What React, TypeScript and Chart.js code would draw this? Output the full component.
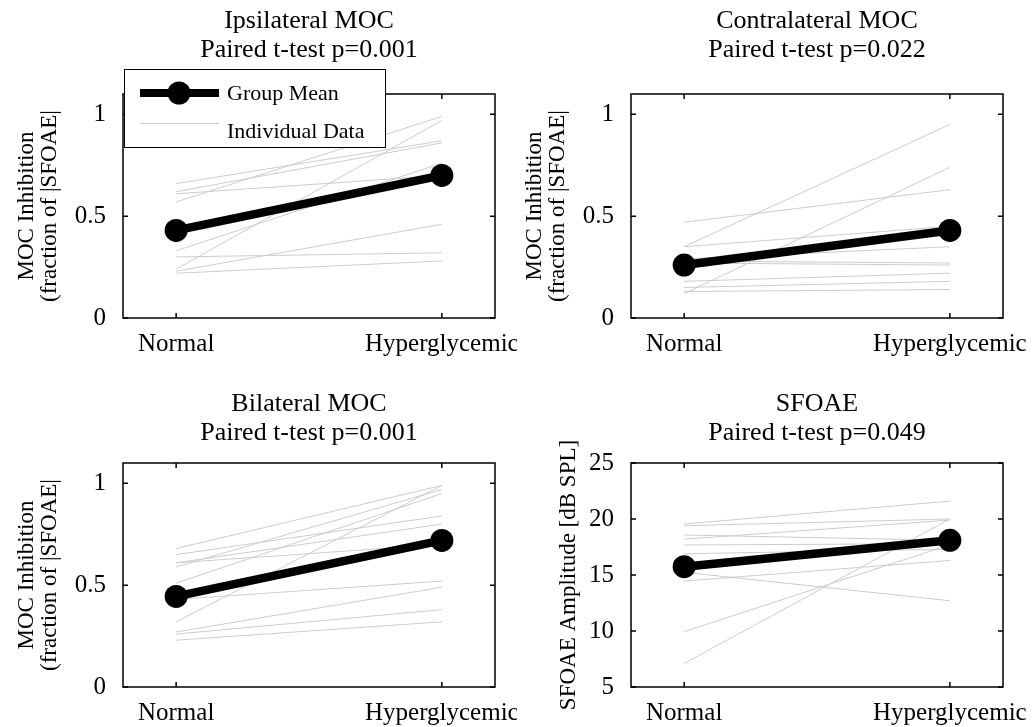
import React, { useEffect, useRef } from "react";
import { Chart, registerables } from "chart.js";

Chart.register(...registerables);

// ---------- data ----------
const groups = ["Normal", "Hyperglycemic"];
const groupX = [1, 2];

const ipsiNormal = [0.66, 0.62, 0.61, 0.57, 0.33, 0.3, 0.24, 0.23, 0.22];
const ipsiHyper = [0.87, 0.86, 0.7, 0.99, 0.76, 0.32, 0.97, 0.46, 0.28];
const ipsiMean = [0.43, 0.7];

const contraNormal = [0.47, 0.35, 0.35, 0.29, 0.28, 0.27, 0.18, 0.15, 0.13, 0.12];
const contraHyper = [0.63, 0.95, 0.45, 0.35, 0.27, 0.26, 0.22, 0.18, 0.14, 0.74];
const contraMean = [0.26, 0.43];

const bilatNormal = [0.68, 0.65, 0.61, 0.61, 0.59, 0.51, 0.43, 0.32, 0.27, 0.26, 0.23];
const bilatHyper = [0.99, 0.84, 0.7, 0.8, 0.97, 0.95, 0.52, 0.99, 0.49, 0.38, 0.32];
const bilatMean = [0.445, 0.72];

const sfoaeNormal = [19.55, 19.4, 18.57, 18.2, 17.68, 16.9, 15.24, 14.46, 9.94, 7.1];
const sfoaeHyper = [21.6, 20.0, 18.1, 19.9, 17.8, 17.3, 12.7, 16.3, 17.7, 20.0];
const sfoaeMean = [15.74, 18.1];

const mocTicks = [0, 0.5, 1];
const sfoaeTicks = [5, 10, 15, 20, 25];

const legendLabels = ["Group Mean", "Individual Data"];

// ---------- styling ----------
const FONT = "'Liberation Serif', 'Times New Roman', serif";
const GRAY = "#cccccc";

type Panel = {
  titles: string[];
  yLabel: string[];
  normal: number[];
  hyper: number[];
  mean: number[];
  yMin: number;
  yMax: number;
  yTicks: number[];
  canvas: { left: number; top: number; width: number; height: number };
  yAxisWidth: number;
  xAxisHeight: number;
  padTop: number;
  padRight: number;
  yLabelOffsets: number[];
  titleOffsets: number[];
  legend?: boolean;
};

const panels: Panel[] = [
  {
    titles: ["Ipsilateral MOC", "Paired t-test p=0.001"],
    yLabel: ["MOC Inhibition", "(fraction of |SFOAE|"],
    normal: ipsiNormal,
    hyper: ipsiHyper,
    mean: ipsiMean,
    yMin: 0,
    yMax: 1.1,
    yTicks: mocTicks,
    canvas: { left: 0, top: 0, width: 517, height: 363 },
    yAxisWidth: 123,
    xAxisHeight: 45,
    padTop: 94,
    padRight: 22,
    yLabelOffsets: [-96, -73],
    titleOffsets: [-66, -37],
    legend: true,
  },
  {
    titles: ["Contralateral MOC", "Paired t-test p=0.022"],
    yLabel: ["MOC Inhibition", "(fraction of |SFOAE|"],
    normal: contraNormal,
    hyper: contraHyper,
    mean: contraMean,
    yMin: 0,
    yMax: 1.1,
    yTicks: mocTicks,
    canvas: { left: 517, top: 0, width: 518, height: 363 },
    yAxisWidth: 114,
    xAxisHeight: 45,
    padTop: 94,
    padRight: 32,
    yLabelOffsets: [-96, -73],
    titleOffsets: [-66, -37],
  },
  {
    titles: ["Bilateral MOC", "Paired t-test p=0.001"],
    yLabel: ["MOC Inhibition", "(fraction of |SFOAE|"],
    normal: bilatNormal,
    hyper: bilatHyper,
    mean: bilatMean,
    yMin: 0,
    yMax: 1.1,
    yTicks: mocTicks,
    canvas: { left: 0, top: 364, width: 517, height: 363 },
    yAxisWidth: 123,
    xAxisHeight: 40,
    padTop: 99,
    padRight: 22,
    yLabelOffsets: [-96, -73],
    titleOffsets: [-52, -23],
  },
  {
    titles: ["SFOAE", "Paired t-test p=0.049"],
    yLabel: ["SFOAE Amplitude [dB SPL]"],
    normal: sfoaeNormal,
    hyper: sfoaeHyper,
    mean: sfoaeMean,
    yMin: 5,
    yMax: 25,
    yTicks: sfoaeTicks,
    canvas: { left: 517, top: 364, width: 518, height: 363 },
    yAxisWidth: 114,
    xAxisHeight: 40,
    padTop: 99,
    padRight: 32,
    yLabelOffsets: [-62],
    titleOffsets: [-52, -23],
  },
];

function makePlugin(p: Panel) {
  return {
    id: "matlabFrame",
    afterDraw(chart: any) {
      const ctx = chart.ctx as CanvasRenderingContext2D;
      const { left, top, right, bottom } = chart.chartArea;
      const xs = chart.scales.x;
      const ys = chart.scales.y;
      ctx.save();
      // box
      ctx.strokeStyle = "#000";
      ctx.lineWidth = 1.5;
      ctx.strokeRect(left, top, right - left, bottom - top);
      // inward ticks
      const tl = 5;
      ctx.beginPath();
      p.yTicks.forEach((v) => {
        const y = ys.getPixelForValue(v);
        ctx.moveTo(left, y);
        ctx.lineTo(left + tl, y);
        ctx.moveTo(right, y);
        ctx.lineTo(right - tl, y);
      });
      groupX.forEach((v) => {
        const x = xs.getPixelForValue(v);
        ctx.moveTo(x, bottom);
        ctx.lineTo(x, bottom - tl);
        ctx.moveTo(x, top);
        ctx.lineTo(x, top + tl);
      });
      ctx.stroke();
      // titles
      const cx = (left + right) / 2;
      ctx.fillStyle = "#000";
      ctx.textAlign = "center";
      ctx.textBaseline = "alphabetic";
      ctx.font = `26px ${FONT}`;
      ctx.fillText(p.titles[0], cx, top + p.titleOffsets[0]);
      ctx.fillText(p.titles[1], cx, top + p.titleOffsets[1]);
      // y label
      ctx.font = `23px ${FONT}`;
      const cy = (top + bottom) / 2;
      p.yLabel.forEach((t, i) => {
        ctx.save();
        ctx.translate(left + p.yLabelOffsets[i], cy);
        ctx.rotate(-Math.PI / 2);
        ctx.textAlign = "center";
        ctx.textBaseline = "middle";
        ctx.fillText(t, 0, 0);
        ctx.restore();
      });
      // legend
      if (p.legend) {
        const lx = 124.5, ly = 69.5, lw = 261, lh = 78;
        ctx.fillStyle = "#fff";
        ctx.fillRect(lx, ly, lw, lh);
        ctx.strokeStyle = "#000";
        ctx.lineWidth = 1;
        ctx.strokeRect(lx, ly, lw, lh);
        ctx.strokeStyle = "#000";
        ctx.lineWidth = 8;
        ctx.beginPath();
        ctx.moveTo(140, 93);
        ctx.lineTo(219, 93);
        ctx.stroke();
        ctx.fillStyle = "#000";
        ctx.beginPath();
        ctx.arc(179, 93, 11.5, 0, Math.PI * 2);
        ctx.fill();
        ctx.strokeStyle = GRAY;
        ctx.lineWidth = 1;
        ctx.beginPath();
        ctx.moveTo(140, 123.5);
        ctx.lineTo(219, 123.5);
        ctx.stroke();
        ctx.fillStyle = "#000";
        ctx.font = `22px ${FONT}`;
        ctx.textAlign = "left";
        ctx.textBaseline = "alphabetic";
        ctx.fillText(legendLabels[0], 227, 100);
        ctx.fillText(legendLabels[1], 227, 138);
      }
      ctx.restore();
    },
  };
}

function PanelChart({ p }: { p: Panel }) {
  const ref = useRef<HTMLCanvasElement | null>(null);
  useEffect(() => {
    if (!ref.current) return;
    const meanDs = {
      label: legendLabels[0],
      data: groupX.map((x, i) => ({ x, y: p.mean[i] })),
      borderColor: "#000",
      backgroundColor: "#000",
      borderWidth: 8.5,
      pointRadius: 11.5,
      pointBackgroundColor: "#000",
      pointBorderWidth: 0,
      clip: false as any,
    };
    const indiv = p.normal.map((n, i) => ({
      label: legendLabels[1],
      data: [
        { x: groupX[0], y: n },
        { x: groupX[1], y: p.hyper[i] },
      ],
      borderColor: GRAY,
      borderWidth: 1,
      pointRadius: 0,
    }));
    const chart = new Chart(ref.current, {
      type: "line",
      data: { datasets: [meanDs, ...indiv] as any },
      options: {
        animation: false,
        responsive: false,
        events: [],
        layout: { padding: { top: p.padTop, right: p.padRight, left: 0, bottom: 0 } },
        plugins: { legend: { display: false }, tooltip: { enabled: false }, title: { display: false } },
        scales: {
          x: {
            type: "linear",
            min: 0.8,
            max: 2.2,
            grid: { display: false },
            border: { display: false },
            afterBuildTicks: (s: any) => {
              s.ticks = groupX.map((v) => ({ value: v }));
            },
            afterFit: (s: any) => {
              s.height = p.xAxisHeight;
              s.paddingLeft = 0;
              s.paddingRight = 0;
            },
            ticks: {
              autoSkip: false,
              maxRotation: 0,
              padding: 3,
              color: "#000",
              font: { family: FONT, size: 25 },
              callback: (v: any) => groups[groupX.indexOf(Number(v))] ?? "",
            },
          },
          y: {
            type: "linear",
            min: p.yMin,
            max: p.yMax,
            grid: { display: false },
            border: { display: false },
            afterBuildTicks: (s: any) => {
              s.ticks = p.yTicks.map((v) => ({ value: v }));
            },
            afterFit: (s: any) => {
              s.width = p.yAxisWidth;
              s.paddingTop = 0;
              s.paddingBottom = 0;
            },
            ticks: {
              padding: 9,
              color: "#000",
              font: { family: FONT, size: 25 },
              callback: (v: any) => String(v),
            },
          },
        },
      },
      plugins: [makePlugin(p)],
    });
    return () => chart.destroy();
  }, [p]);
  return (
    <canvas
      ref={ref}
      width={p.canvas.width}
      height={p.canvas.height}
      style={{
        position: "absolute",
        left: p.canvas.left,
        top: p.canvas.top,
        width: p.canvas.width,
        height: p.canvas.height,
      }}
    />
  );
}

export default function App() {
  return (
    <div
      style={{
        position: "fixed",
        left: 0,
        top: 0,
        width: 1035,
        height: 727,
        background: "#fff",
        overflow: "hidden",
      }}
    >
      {panels.map((p, i) => (
        <PanelChart key={i} p={p} />
      ))}
    </div>
  );
}
